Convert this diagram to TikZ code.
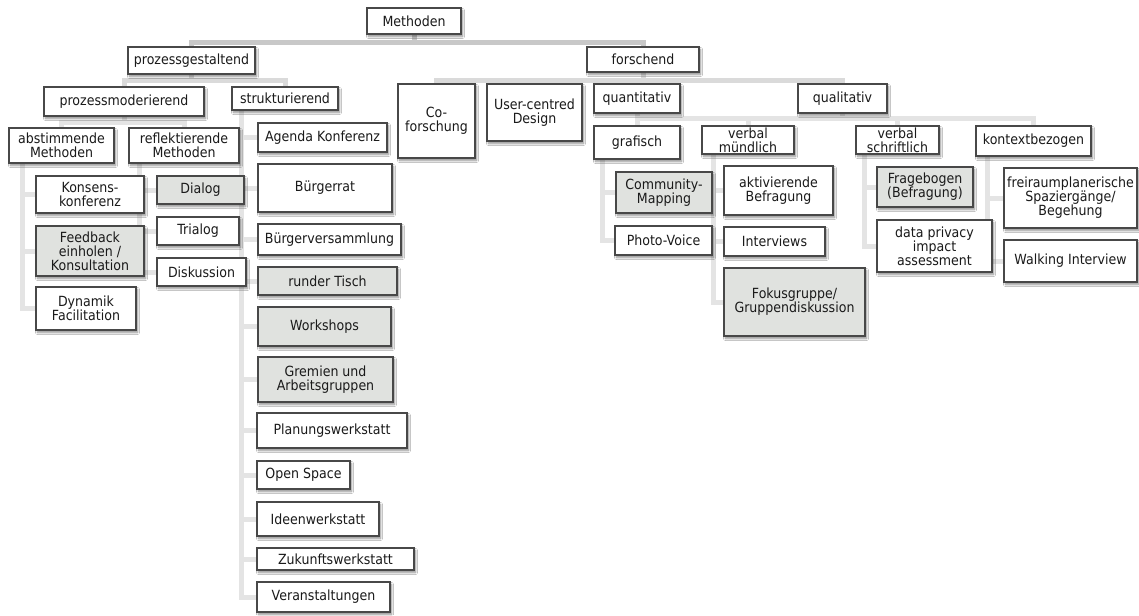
\documentclass[tikz,border=0pt]{standalone}
\usepackage{fontspec}
\setmainfont{DejaVu Sans}[FakeStretch=0.9]
\usetikzlibrary{shadows.blur,calc}
\pgfdeclarelayer{back}
\pgfdeclarelayer{bg}
\pgfsetlayers{back,bg,main}
\definecolor{bord}{HTML}{484848}
\definecolor{gfill}{HTML}{E0E2DF}
\definecolor{txt}{HTML}{1A1A1A}
\definecolor{lnA}{HTML}{C8C8C8}
\definecolor{lnB}{HTML}{DADADA}
\definecolor{lnC}{HTML}{E4E4E4}
\tikzset{
 box/.style={draw=bord, line width=1.1pt, fill=white, text=txt, align=center, inner sep=1pt,
   font=\fontsize{14}{14}\selectfont,
   blur shadow={shadow xshift=1.5pt, shadow yshift=-2.5pt, shadow opacity=45, shadow blur steps=6, shadow blur radius=2pt}},
 gbox/.style={fill=gfill},
 conA/.style={draw=lnA, line width=5pt},
 conB/.style={draw=lnB, line width=5pt},
 conC/.style={draw=lnC, line width=5pt},
}
\newcommand\bx[7][]{%
  \pgfmathsetmacro\cx{(#3+#5)/2}\pgfmathsetmacro\cy{(#4+#6)/2}%
  \pgfmathsetmacro\ww{#5-#3}\pgfmathsetmacro\hh{#6-#4}%
  \node[box,#1,minimum width=\ww pt,minimum height=\hh pt] (#2) at (\cx,\cy) {#7};}
\begin{document}
\begin{tikzpicture}[x=1pt,y=-1pt]
\useasboundingbox (0,0) rectangle (1139,615);
\bx{met}{367}{8}{461}{34}{Methoden}
\bx{pg}{128}{47}{255}{74}{prozessgestaltend}
\bx{fo}{587}{47}{699}{72}{forschend}
\bx{pm}{44}{87}{204}{116}{prozessmoderierend}
\bx{st}{232}{87}{338}{110}{strukturierend}
\bx{ab}{9}{128}{114}{163}{abstimmende\\Methoden}
\bx{re}{129}{128}{239}{163}{reflektierende\\Methoden}
\bx{ag}{258}{123}{387}{152}{Agenda Konferenz}
\bx{br}{258}{164}{392}{212}{Bürgerrat}
\bx{bv}{258}{224}{401}{255}{Bürgerversammlung}
\bx[gbox]{rt}{258}{267}{397}{295}{runder Tisch}
\bx[gbox]{ws}{258}{307}{391}{346}{Workshops}
\bx[gbox]{gr}{258}{357}{393}{402}{Gremien und\\Arbeitsgruppen}
\bx{pw}{257}{413}{407}{448}{Planungswerkstatt}
\bx{os}{257}{461}{350}{489}{Open Space}
\bx{iw}{257}{502}{379}{536}{Ideenwerkstatt}
\bx{zw}{257}{548}{414}{570}{Zukunftswerkstatt}
\bx{va}{257}{582}{390}{612}{Veranstaltungen}
\bx{kk}{36}{176}{144}{213}{Konsens-\\konferenz}
\bx[gbox]{fb}{36}{226}{144}{276}{Feedback\\einholen /\\Konsultation}
\bx{df}{36}{287}{136}{330}{Dynamik\\Facilitation}
\bx[gbox]{di}{157}{176}{244}{204}{Dialog}
\bx{tr}{157}{217}{239}{245}{Trialog}
\bx{dk}{157}{258}{246}{286}{Diskussion}
\bx{cf}{398}{84}{475}{158}{Co-\\forschung}
\bx{uc}{487}{84}{582}{141}{User-centred\\Design}
\bx{qn}{594}{84}{680}{113}{quantitativ}
\bx{ql}{798}{84}{887}{113}{qualitativ}
\bx{gf}{594}{126}{680}{159}{grafisch}
\bx{vm}{702}{126}{794}{154}{verbal\\mündlich}
\bx{vs}{856}{126}{939}{154}{verbal\\schriftlich}
\bx{kb}{976}{126}{1091}{156}{kontextbezogen}
\bx[gbox]{cm}{616}{172}{712}{213}{Community-\\Mapping}
\bx{pv}{615}{226}{712}{255}{Photo-Voice}
\bx{ak}{724}{166}{833}{215}{aktivierende\\Befragung}
\bx{iv}{724}{227}{825}{256}{Interviews}
\bx[gbox]{fg}{724}{268}{865}{336}{Fokusgruppe/\\Gruppendiskussion}
\bx[gbox]{fr}{877}{167}{973}{207}{Fragebogen\\(Befragung)}
\bx{dp}{877}{220}{992}{272}{data privacy\\impact\\assessment}
\bx{fs}{1004}{168}{1137}{228}{freiraumplanerische\\Spaziergänge/\\Begehung}
\bx{wi}{1004}{240}{1137}{282}{Walking Interview}
\begin{pgfonlayer}{bg}
\draw[conA] (met.south) -- ++(0,8) -| (pg.north);
\draw[conA] (met.south) -- ++(0,8) -| (fo.north);
\draw[conB] (pg.south) -- ++(0,6) -| (pm.north);
\draw[conB] (pg.south) -- ++(0,6) -| (st.north);
\foreach \c in {cf,uc,qn,ql} \draw[conB] (fo.south) -- ++(0,8) -| (\c.north);
\draw[conC] (pm.south) -- ++(0,6) -| (ab.north);
\draw[conC] (pm.south) -- ++(0,6) -| (re.north);
\draw[conC] (qn.south) -- ++(0,5) -| (gf.north);
\draw[conC] (qn.south) -- ++(0,5) -| (vm.north);
\draw[conC] (ql.south) -- ++(0,5) -| (vs.north);
\draw[conC] (ql.south) -- ++(0,5) -| (kb.north);
\coordinate (jq) at ($(ql.south)+(0,5)$);
\draw[conC] (vm.north |- jq) -- (jq);
\foreach \c in {kk,fb,df} \draw[conC] ($(ab.south west)+(14,0)$) |- (\c.west);
\foreach \c in {di,tr,dk} \draw[conC] ($(re.south west)+(11,0)$) |- (\c.west);
\foreach \c in {ag,br,bv,rt,ws,gr,pw,os,iw,zw,va} \draw[conC] ($(st.south west)+(10,0)$) |- (\c.west);
\foreach \c in {cm,pv} \draw[conC] ($(gf.south west)+(9,0)$) |- (\c.west);
\foreach \c in {ak,iv,fg} \draw[conC] ($(vm.south west)+(12,0)$) |- (\c.west);
\foreach \c in {fr,dp} \draw[conC] ($(vs.south west)+(9,0)$) |- (\c.west);
\foreach \c in {fs,wi} \draw[conC] ($(kb.south west)+(12,0)$) |- (\c.west);
\end{pgfonlayer}
\begin{pgfonlayer}{back}
\fill[white] (0,0) rectangle (1139,615);
\end{pgfonlayer}
\end{tikzpicture}
\end{document}
